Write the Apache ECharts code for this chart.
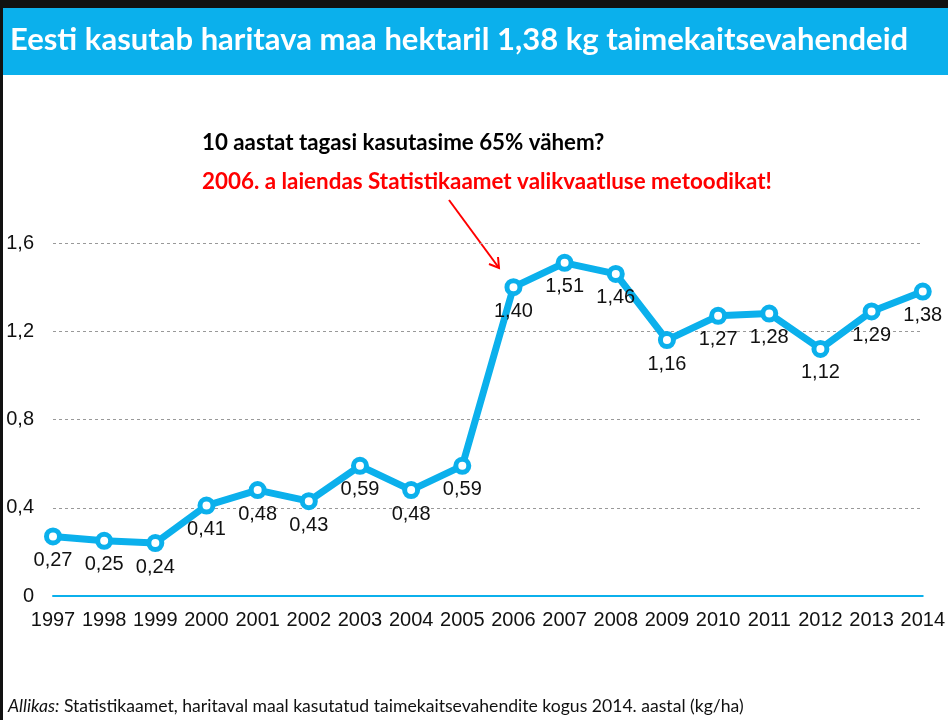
<!DOCTYPE html>
<html>
<head>
<meta charset="utf-8">
<script src="https://cdn.jsdelivr.net/npm/echarts@6/dist/echarts.min.js"></script>
<style>
  html, body { margin: 0; padding: 0; background: #fff; }
  #chart { width: 948px; height: 720px; }
</style>
</head>
<body>
<div id="chart"></div>
<script>
const years = ['1997', '1998', '1999', '2000', '2001', '2002', '2003', '2004', '2005',
  '2006', '2007', '2008', '2009', '2010', '2011', '2012', '2013', '2014']
const usage = [0.27, 0.25, 0.24, 0.41, 0.48, 0.43, 0.59, 0.48, 0.59,
  1.40, 1.51, 1.46, 1.16, 1.27, 1.28, 1.12, 1.29, 1.38]

const titleText = 'Eesti kasutab haritava maa hektaril 1,38 kg taimekaitsevahendeid'
const noteBlack = '10 aastat tagasi kasutasime 65% vähem?'
const noteRed = '2006. a laiendas Statistikaamet valikvaatluse metoodikat!'
const sourceLabel = 'Allikas:'
const sourceText = ' Statistikaamet, haritaval maal kasutatud taimekaitsevahendite kogus 2014. aastal (kg/ha)'

const blue = '#0bb0ec'
const comma = (v) => String(v).replace('.', ',')

const chart = echarts.init(document.getElementById('chart'))

chart.setOption({
  backgroundColor: '#fff',
  animation: false,
  textStyle: { fontFamily: '"Liberation Sans", Arial, sans-serif' },
  grid: { left: 53, right: 19, top: 243, bottom: 124 },
  xAxis: {
    type: 'category',
    data: years,
    boundaryGap: false,
    axisLine: { lineStyle: { color: blue, width: 2 } },
    axisTick: { show: false },
    axisLabel: { color: '#111', fontSize: 20, margin: 14, interval: 0 }
  },
  yAxis: {
    type: 'value',
    min: 0,
    max: 1.6,
    interval: 0.4,
    axisLine: { show: false },
    axisTick: { show: false },
    axisLabel: { color: '#111', fontSize: 20, margin: 19, formatter: (v) => comma(+v.toFixed(1)) },
    splitLine: { lineStyle: { color: '#999', type: [3, 3], width: 1 } }
  },
  series: [{
    type: 'line',
    data: usage,
    lineStyle: { color: blue, width: 7 },
    symbol: 'circle',
    symbolSize: 13,
    itemStyle: { color: '#fff', borderColor: blue, borderWidth: 5 },
    label: {
      show: true,
      position: 'bottom',
      distance: 5,
      color: '#111',
      fontSize: 20,
      formatter: (p) => comma(p.value.toFixed(2))
    },
    z: 5
  }],
  graphic: [
    { type: 'rect', left: 0, top: 0, shape: { width: 948, height: 8 }, style: { fill: '#111' } },
    { type: 'rect', left: 0, top: 0, shape: { width: 3, height: 720 }, style: { fill: '#111' } },
    { type: 'rect', left: 3, top: 8, shape: { width: 945, height: 67 }, style: { fill: blue } },
    {
      type: 'text', left: 10, top: 24,
      style: { text: titleText, fill: '#fff', font: 'bold 31px Lato, "Open Sans", sans-serif' }
    },
    {
      type: 'text', left: 202, top: 132,
      style: { text: noteBlack, fill: '#000', font: 'bold 22.3px Lato, "Open Sans", sans-serif' }
    },
    {
      type: 'text', left: 202, top: 171,
      style: { text: noteRed, fill: '#f00', font: 'bold 22.4px Lato, "Open Sans", sans-serif' }
    },
    {
      type: 'line',
      shape: { x1: 449, y1: 200, x2: 499, y2: 268 },
      style: { stroke: '#f00', lineWidth: 2 }
    },
    {
      type: 'polyline',
      shape: { points: [[489, 264], [499, 268], [498, 257]] },
      style: { stroke: '#f00', lineWidth: 2, fill: null }
    },
    {
      type: 'text', left: 8, top: 697,
      style: {
        text: '{i|' + sourceLabel + '}{r|' + sourceText + '}',
        rich: {
          i: { font: 'italic 17.6px Lato, sans-serif', fill: '#111' },
          r: { font: '17.6px Lato, sans-serif', fill: '#111' }
        }
      }
    }
  ]
})
</script>
</body>
</html>
